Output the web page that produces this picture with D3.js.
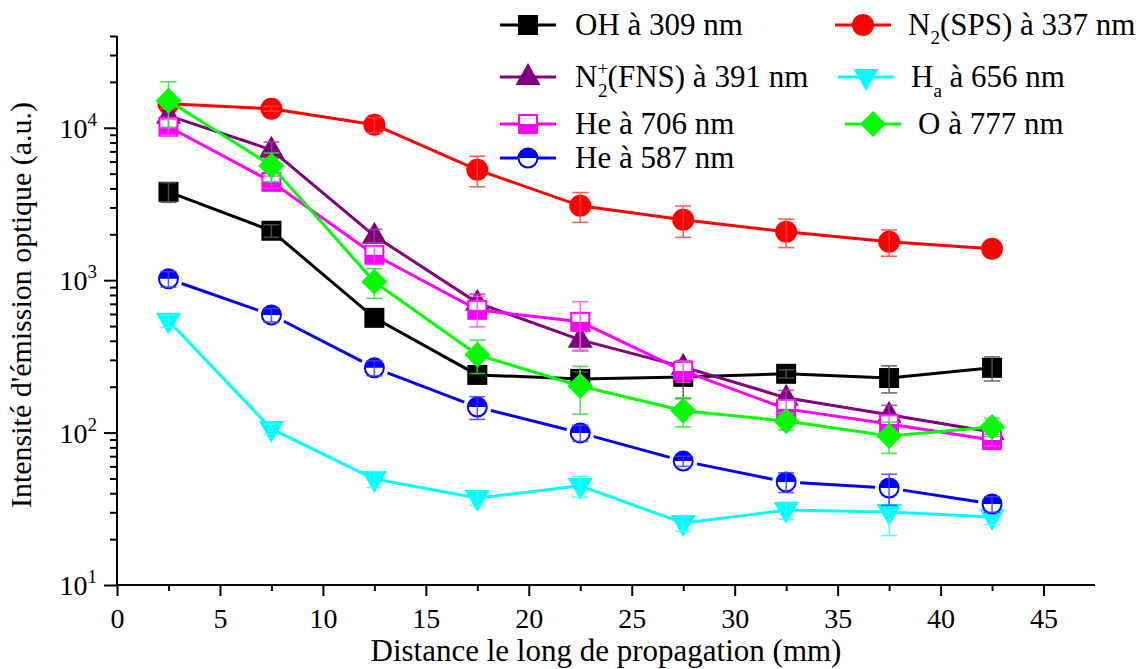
<!DOCTYPE html>
<html>
<head>
<meta charset="utf-8">
<script src="https://cdn.jsdelivr.net/npm/d3@7"></script>
<style>
  html, body { margin: 0; padding: 0; background: #fff; }
  svg text { font-family: "Liberation Serif", "Times New Roman", serif; fill: #000; }
</style>
</head>
<body>
<svg id="chart" width="1141" height="669"></svg>
<script>
// ---------- data ----------
const distances = [2.5, 7.5, 12.5, 17.5, 22.5, 27.5, 32.5, 37.5, 42.5];

const ohValues   = [3800, 2110, 566, 239, 225, 232, 243, 228, 266];
const ohErrors   = [560, 200, 0, 0, 25, 65, 15, 46, 48];

const n2Values   = [14380, 13330, 10470, 5300, 3076, 2490, 2077, 1785, 1606];
const n2Errors   = [1000, 500, 1200, 1200, 680, 580, 440, 350, 0];

const n2pValues  = [12000, 7170, 1955, 710, 406, 270, 169, 131, 101];
const n2pErrors  = [1500, 900, 200, 100, 60, 25, 20, 20, 10];

const haValues   = [541, 105.7, 49.6, 37.2, 44.7, 25.5, 31, 30.1, 27.9];
const haErrors   = [50, 8, 6, 4, 7, 3, 4, 9, 3];

const he706Values = [10160, 4420, 1467, 639, 533, 254, 143, 114, 89.5];
const he706Errors = [1200, 400, 200, 145, 190, 40, 20, 15, 8];

const o777Values = [15040, 5630, 975, 324, 202, 139, 119, 95, 109];
const o777Errors = [5000, 1200, 215, 80, 70, 30, 15, 22, 15];

const he587Values = [1020, 592, 266, 147, 99.5, 65, 47.4, 43.3, 34];
const he587Errors = [120, 60, 30, 25, 12, 5, 7, 10, 4];

const xTickValues = [0, 5, 10, 15, 20, 25, 30, 35, 40, 45];
const yTickExponents = [1, 2, 3, 4];

// ---------- setup ----------
const svg = d3.select("#chart");
const x = d3.scaleLinear().domain([0, 47.5]).range([117, 1095]);
const y = d3.scaleLog().domain([10, 40000]).range([585, 36]);

const series = [
  {key: "OH", values: ohValues, errors: ohErrors, color: "#000000", err: "#555555", marker: "square", gap: false},
  {key: "N2SPS", values: n2Values, errors: n2Errors, color: "#ff0000", err: "#ff4444", marker: "circle", gap: false},
  {key: "N2FNS", values: n2pValues, errors: n2pErrors, color: "#800080", err: "#a040a0", marker: "triUp", gap: false},
  {key: "Ha", values: haValues, errors: haErrors, color: "#00ffff", err: "#40ffff", marker: "triDown", gap: false},
  {key: "He706", values: he706Values, errors: he706Errors, color: "#ff00ff", err: "#ff50ff", marker: "halfSquare", gap: false},
  {key: "O777", values: o777Values, errors: o777Errors, color: "#00ff00", err: "#30e030", marker: "diamond", gap: false},
  {key: "He587", values: he587Values, errors: he587Errors, color: "#0000ff", err: "#4040ff", marker: "halfCircle", gap: true}
];

function drawMarker(g, type, color) {
  switch (type) {
    case "square":
      g.append("rect").attr("x", -10).attr("y", -10).attr("width", 20).attr("height", 20).attr("fill", color);
      break;
    case "circle":
      g.append("circle").attr("r", 11).attr("fill", color);
      break;
    case "triUp":
      g.append("path").attr("d", "M0,-14L12.5,8L-12.5,8Z").attr("fill", color);
      break;
    case "triDown":
      g.append("path").attr("d", "M0,14L12.5,-8L-12.5,-8Z").attr("fill", color);
      break;
    case "halfSquare":
      g.append("rect").attr("x", -9).attr("y", -9).attr("width", 18).attr("height", 18)
        .attr("fill", "#fff").attr("stroke", color).attr("stroke-width", 2);
      g.append("rect").attr("x", -9).attr("y", 0).attr("width", 18).attr("height", 9).attr("fill", color);
      break;
    case "diamond":
      g.append("path").attr("d", "M0,-13L13,0L0,13L-13,0Z").attr("fill", color);
      break;
    case "halfCircle":
      g.append("circle").attr("r", 9.5).attr("fill", "#fff").attr("stroke", color).attr("stroke-width", 2);
      g.append("path").attr("d", "M-9.5,0A9.5,9.5 0 0 1 9.5,0Z").attr("fill", color);
      break;
  }
}

// ---------- axes ----------
const yMinor = [];
for (let e = 1; e <= 4; e++) {
  for (let m = 2; m <= 9; m++) {
    const v = m * Math.pow(10, e);
    if (v <= 40000) yMinor.push(v);
  }
}
const xMinor = d3.range(2.5, 47.5, 5);

const axisG = svg.append("g");

axisG.append("g").attr("transform", "translate(117,0)")
  .call(d3.axisLeft(y).tickValues(yMinor).tickSize(7).tickSizeOuter(0).tickFormat(""))
  .call(g => g.select(".domain").remove());
const yAx = axisG.append("g").attr("transform", "translate(117,0)")
  .call(d3.axisLeft(y).tickValues(yTickExponents.map(e => Math.pow(10, e))).tickSize(13).tickSizeOuter(0).tickFormat(""));
yAx.select(".domain").attr("d", `M0,${y(40000)}V${y(10)}`);
yAx.selectAll("line, path").attr("stroke", "#000").attr("stroke-width", 2);
yTickExponents.forEach(e => {
  const t = axisG.append("text").attr("x", 97).attr("y", y(Math.pow(10, e)) + 10)
    .attr("text-anchor", "end").style("font-size", "28px");
  t.append("tspan").text("10");
  t.append("tspan").attr("dy", -12).style("font-size", "19px").text(String(e));
});
axisG.append("g").attr("transform", "translate(0,585)")
  .call(d3.axisBottom(x).tickValues(xMinor).tickSize(6).tickSizeOuter(0).tickFormat(""))
  .call(g => g.select(".domain").remove());
const xAx = axisG.append("g").attr("transform", "translate(0,585)")
  .call(d3.axisBottom(x).tickValues(xTickValues).tickSize(11).tickSizeOuter(0).tickFormat(d3.format("d")));
xAx.select(".domain").attr("d", `M${x(0)},0H${x(47.5)}`);
xAx.selectAll("line, path").attr("stroke", "#000").attr("stroke-width", 2);
xAx.selectAll("text").style("font-size", "28px").attr("font-family", null).attr("dy", "1.05em");
axisG.selectAll("g.tick line").attr("stroke", "#000").attr("stroke-width", 2);

svg.append("text").attr("x", (x(0) + x(47.5)) / 2).attr("y", 661).attr("text-anchor", "middle")
  .style("font-size", "31px").text("Distance le long de propagation (mm)");
svg.append("text").attr("transform", `translate(31,305) rotate(-90)`)
  .attr("text-anchor", "middle").style("font-size", "30px").text("Intensité d'émission optique (a.u.)");

// ---------- series ----------
const plot = svg.append("g");
series.forEach(s => {
  const pts = distances.map((d, i) => ({px: x(d), py: y(s.values[i]), v: s.values[i], e: s.errors[i]}));
  const g = plot.append("g");
  if (!s.gap) {
    g.append("path")
      .attr("d", d3.line().x(p => p.px).y(p => p.py)(pts))
      .attr("fill", "none").attr("stroke", s.color).attr("stroke-width", 3);
  } else {
    const gp = 14;
    for (let i = 0; i < pts.length - 1; i++) {
      const a = pts[i], b = pts[i + 1];
      const dx = b.px - a.px, dy = b.py - a.py, L = Math.hypot(dx, dy);
      const ux = dx / L, uy = dy / L;
      g.append("line")
        .attr("x1", a.px + ux * gp).attr("y1", a.py + uy * gp)
        .attr("x2", b.px - ux * gp).attr("y2", b.py - uy * gp)
        .attr("stroke", s.color).attr("stroke-width", 3);
    }
  }
  pts.forEach(p => {
    const m = g.append("g").attr("transform", `translate(${p.px},${p.py})`);
    drawMarker(m, s.marker, s.color);
  });
  pts.forEach(p => {
    if (!p.e) return;
    const y1 = y(p.v + p.e), y2 = y(Math.max(p.v - p.e, 10.5));
    const eg = g.append("g").attr("stroke", s.err).attr("stroke-width", 1.6).attr("opacity", 0.85);
    eg.append("line").attr("x1", p.px).attr("x2", p.px).attr("y1", y1).attr("y2", y2);
    eg.append("line").attr("x1", p.px - 8).attr("x2", p.px + 8).attr("y1", y1).attr("y2", y1);
    eg.append("line").attr("x1", p.px - 8).attr("x2", p.px + 8).attr("y1", y2).attr("y2", y2);
  });
});

// ---------- legend ----------
const legendItems = [
  {s: 0, lx: 500, ly: 25, tx: 575},
  {s: 1, lx: 835, ly: 25, tx: 908},
  {s: 2, lx: 500, ly: 77, tx: 575},
  {s: 3, lx: 838, ly: 77, tx: 911},
  {s: 4, lx: 500, ly: 124, tx: 575},
  {s: 5, lx: 845, ly: 124, tx: 918},
  {s: 6, lx: 500, ly: 158, tx: 575}
];
const lg = svg.append("g");
legendItems.forEach(it => {
  const s = series[it.s];
  const g = lg.append("g");
  if (s.gap) {
    g.append("line").attr("x1", it.lx).attr("x2", it.lx + 18).attr("y1", it.ly).attr("y2", it.ly).attr("stroke", s.color).attr("stroke-width", 3);
    g.append("line").attr("x1", it.lx + 38).attr("x2", it.lx + 56).attr("y1", it.ly).attr("y2", it.ly).attr("stroke", s.color).attr("stroke-width", 3);
  } else {
    g.append("line").attr("x1", it.lx).attr("x2", it.lx + 56).attr("y1", it.ly).attr("y2", it.ly).attr("stroke", s.color).attr("stroke-width", 3);
  }
  const m = g.append("g").attr("transform", `translate(${it.lx + 28},${it.ly})`);
  drawMarker(m, s.marker, s.color);
  const t = g.append("text").attr("x", it.tx).attr("y", it.ly + 10).style("font-size", "31px");
  switch (s.key) {
    case "OH": t.text("OH à 309 nm"); break;
    case "N2SPS":
      t.append("tspan").text("N");
      t.append("tspan").attr("dy", 9).style("font-size", "19px").text("2");
      t.append("tspan").attr("dy", -9).text("(SPS) à 337 nm");
      break;
    case "N2FNS":
      t.append("tspan").text("N");
      t.append("tspan").attr("dy", -12).style("font-size", "19px").text("+");
      t.append("tspan").attr("dx", -10).attr("dy", 22).style("font-size", "19px").text("2");
      t.append("tspan").attr("dy", -10).text("(FNS) à 391 nm");
      break;
    case "Ha":
      t.append("tspan").text("H");
      t.append("tspan").attr("dy", 10).style("font-size", "19px").text("a");
      t.append("tspan").attr("dy", -10).text(" à 656 nm");
      break;
    case "He706": t.text("He à 706 nm"); break;
    case "O777": t.text("O à 777 nm"); break;
    case "He587": t.text("He à 587 nm"); break;
  }
});
</script>
</body>
</html>
